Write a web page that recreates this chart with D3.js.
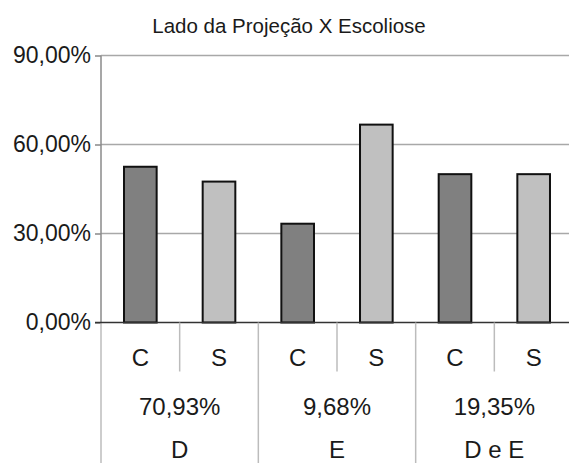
<!DOCTYPE html>
<html>
<head>
<meta charset="utf-8">
<script src="https://cdn.jsdelivr.net/npm/d3@7"></script>
<style>
  html, body { margin: 0; padding: 0; background: #fff; }
  svg { display: block; font-family: "Liberation Sans", Arial, sans-serif; }
</style>
</head>
<body>
<svg id="chart" width="569" height="463"></svg>
<script>
// Groups (side of the projection) with their share of cases
const groups = ["D", "E", "D e E"];
const groupShares = ["70,93%", "9,68%", "19,35%"];
// Sub-categories within each group
const subCategories = ["C", "S"];
// Percentage for each group, in the order C, S
const valuesC = [52.5, 33.3, 50.0];
const valuesS = [47.5, 66.7, 50.0];
// Y-axis ticks
const yTicks = [0, 30, 60, 90];
const title = "Lado da Projeção X Escoliose";

const svg = d3.select("#chart");
const margin = { left: 101, top: 55.5, right: -4, bottom: 140.5 };
const width = 569 - margin.left - margin.right;
const height = 463 - margin.top - margin.bottom;

const rows = [];
groups.forEach((g, i) => {
  rows.push({ group: g, sub: subCategories[0], key: g + "|C", value: valuesC[i] });
  rows.push({ group: g, sub: subCategories[1], key: g + "|S", value: valuesS[i] });
});

const x = d3.scaleBand().domain(rows.map(d => d.key)).range([0, width]).paddingInner(0).paddingOuter(0);
const y = d3.scaleLinear().domain([0, 90]).range([height, 0]);

const g = svg.append("g").attr("transform", `translate(${margin.left},${margin.top})`);

// Horizontal grid lines
g.append("g")
  .selectAll("line")
  .data(yTicks.filter(t => t > 0))
  .join("line")
  .attr("x1", 0).attr("x2", width)
  .attr("y1", d => y(d)).attr("y2", d => y(d))
  .attr("stroke", "#a8a8a8").attr("stroke-width", 1.5);

// Y axis
const yAxis = g.append("g")
  .call(d3.axisLeft(y).tickValues(yTicks).tickSize(6).tickPadding(4)
    .tickFormat(d => d3.format(".2f")(d).replace(".", ",") + "%"));
yAxis.select(".domain").remove();
yAxis.selectAll(".tick line").attr("stroke", "#888").attr("stroke-width", 1.5);
yAxis.selectAll(".tick text").attr("font-size", 23).attr("fill", "#1a1a1a")
  .attr("font-family", "'Liberation Sans', Arial, sans-serif");

// Left vertical line (plot edge and category table edge)
g.append("line")
  .attr("x1", 0).attr("x2", 0).attr("y1", 0).attr("y2", height)
  .attr("stroke", "#8a8a8a").attr("stroke-width", 1.5);
g.append("line")
  .attr("x1", 0).attr("x2", 0).attr("y1", height).attr("y2", height + margin.bottom)
  .attr("stroke", "#bcbcbc").attr("stroke-width", 1.5);

// Bars
const barW = x.bandwidth() * 0.415;
g.append("g")
  .selectAll("rect")
  .data(rows)
  .join("rect")
  .attr("x", d => x(d.key) + (x.bandwidth() - barW) / 2)
  .attr("y", d => y(d.value))
  .attr("width", barW)
  .attr("height", d => y(0) - y(d.value))
  .attr("fill", d => d.sub === "C" ? "#808080" : "#c0c0c0")
  .attr("stroke", "#111").attr("stroke-width", 2);

// Baseline
g.append("line")
  .attr("x1", -6).attr("x2", width)
  .attr("y1", y(0)).attr("y2", y(0))
  .attr("stroke", "#333").attr("stroke-width", 1.5);

// Sub-category separators (short) and group separators (full height)
const subSep = g.append("g");
groups.forEach((grp, i) => {
  const xs = x(grp + "|S");
  subSep.append("line")
    .attr("x1", xs).attr("x2", xs).attr("y1", height).attr("y2", height + 49)
    .attr("stroke", "#bcbcbc").attr("stroke-width", 1.5);
  if (i > 0) {
    const xg = x(grp + "|C");
    subSep.append("line")
      .attr("x1", xg).attr("x2", xg).attr("y1", height).attr("y2", height + margin.bottom)
      .attr("stroke", "#bcbcbc").attr("stroke-width", 1.5);
  }
});

// Sub-category labels
g.append("g")
  .selectAll("text")
  .data(rows)
  .join("text")
  .attr("x", d => x(d.key) + x.bandwidth() / 2)
  .attr("y", height + 43)
  .attr("text-anchor", "middle")
  .attr("font-size", 24).attr("fill", "#1a1a1a")
  .text(d => d.sub);

// Group share labels
g.append("g")
  .selectAll("text")
  .data(groups)
  .join("text")
  .attr("x", d => x(d + "|C") + x.bandwidth())
  .attr("y", height + 92)
  .attr("text-anchor", "middle")
  .attr("font-size", 24).attr("fill", "#1a1a1a")
  .text((d, i) => groupShares[i]);

// Group names
g.append("g")
  .selectAll("text")
  .data(groups)
  .join("text")
  .attr("x", d => x(d + "|C") + x.bandwidth())
  .attr("y", height + 135)
  .attr("text-anchor", "middle")
  .attr("font-size", 24).attr("fill", "#1a1a1a")
  .text(d => d);

// Title
svg.append("text")
  .attr("x", 289).attr("y", 33)
  .attr("text-anchor", "middle")
  .attr("font-size", 20.5).attr("fill", "#1a1a1a")
  .text(title);
</script>
</body>
</html>
